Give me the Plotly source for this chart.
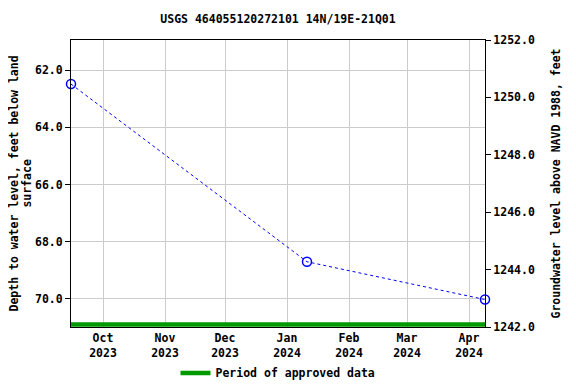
import plotly.graph_objects as go

# Data
dates = ["2023-09-15", "2024-01-11", "2024-04-09"]
depth_ft = [62.49, 68.70, 70.02]
approved_period = ["2023-09-15", "2024-04-09"]
approved_level = [70.89, 70.89]
datum_ft = 1313.0  # land surface elevation (NAVD 1988)
elev_ft = [datum_ft - d for d in depth_ft]

left_ticks = [62, 64, 66, 68, 70]
right_ticks = [1242, 1244, 1246, 1248, 1250, 1252]
x_ticks = ["2023-10-01", "2023-11-01", "2023-12-01", "2024-01-01",
           "2024-02-01", "2024-03-01", "2024-04-01"]
x_labels = ["Oct<br>2023", "Nov<br>2023", "Dec<br>2023", "Jan<br>2024",
            "Feb<br>2024", "Mar<br>2024", "Apr<br>2024"]
left_title_lines = ["Depth to water level, feet below land", "surface"]

FONT = "DejaVu Sans Mono"
font = dict(family=FONT, size=11.5, color="black", weight="bold")

fig = go.Figure()
fig.add_trace(go.Scatter(
    x=approved_period, y=approved_level, mode="lines",
    line=dict(color="#009900", width=4.5),
    name="Period of approved data", showlegend=True, hoverinfo="skip"))
fig.add_trace(go.Scatter(
    x=dates, y=depth_ft, mode="lines+markers",
    line=dict(color="blue", width=1, dash="dot"),
    marker=dict(symbol="circle-open", size=9, color="blue", line=dict(width=1.5)),
    showlegend=False, cliponaxis=False))
fig.add_trace(go.Scatter(
    x=dates, y=elev_ft, yaxis="y2", mode="markers",
    marker=dict(opacity=0), showlegend=False, hoverinfo="skip"))

# left axis title drawn as two rotated lines (tighter line spacing than plotly's)
for txt, xpos in zip(left_title_lines, [-0.140, -0.1085]):
    fig.add_annotation(text=txt, xref="paper", yref="paper", x=xpos, y=0.5,
                       xanchor="center", yanchor="middle", textangle=-90,
                       showarrow=False, font=font)

# page body has an 8px default margin, so the figure is drawn 8px in
fig.update_layout(
    width=568, height=376,
    margin=dict(l=63, r=91, t=32, b=57, autoexpand=False),
    paper_bgcolor="white", plot_bgcolor="white",
    font=font,
    title=dict(text="USGS 464055120272101 14N/19E-21Q01", xref="paper", x=0.5,
               xanchor="center", y=0.971, yanchor="middle", font=font),
    xaxis=dict(range=["2023-09-15", "2024-04-09"], tickvals=x_ticks, ticktext=x_labels,
               showgrid=True, gridcolor="#cccccc", gridwidth=1,
               showline=True, linecolor="black", linewidth=1, mirror=True,
               ticks="", zeroline=False, tickfont=font, automargin=False),
    yaxis=dict(range=[70.98, 60.95], tickvals=left_ticks, tickformat=".1f",
               showgrid=True, gridcolor="#cccccc", gridwidth=1,
               showline=True, linecolor="black", linewidth=1,
               ticks="outside", ticklen=5, tickcolor="black", zeroline=False,
               automargin=False, tickfont=font),
    yaxis2=dict(range=[1242, 1252], tickvals=right_ticks, tickformat=".1f",
                overlaying="y", side="right", showgrid=False,
                showline=True, linecolor="black", linewidth=1,
                ticks="outside", ticklen=5, tickcolor="black", zeroline=False,
                automargin=False,
                title=dict(text="Groundwater level above NAVD 1988, feet",
                           font=font, standoff=18),
                tickfont=font),
    legend=dict(orientation="h", x=0.5, xanchor="center", y=-0.16, yanchor="middle",
                font=font, itemwidth=30),
)

fig.write_html("out.html")
